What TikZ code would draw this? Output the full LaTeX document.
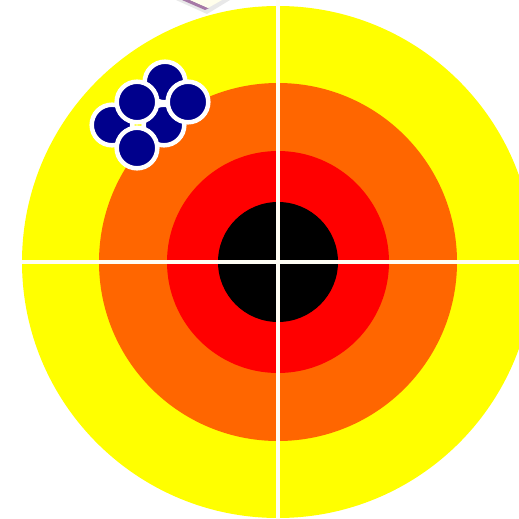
\documentclass[tikz,border=0pt]{standalone}
\begin{document}
\begin{tikzpicture}[x=1pt,y=-1pt,
  crossline/.style={draw=white!96!yellow, line width=3.6pt},
  shot/.style={fill=dotblue, draw=white, line width=4.5pt}]
\definecolor{tgtyellow}{HTML}{FFFF00}
\definecolor{tgtorange}{HTML}{FF6600}
\definecolor{tgtred}{HTML}{FF0000}
\definecolor{dotblue}{HTML}{00008C}
\useasboundingbox (0,0) rectangle (519,519);
\clip (0,0) rectangle (519,519);
\fill[white] (0,0) rectangle (519,519);
% corner of an object at the top
\fill[gray!18] (176,0) -- (207,14) -- (230,0) -- cycle;
\fill[gray!50!violet!70] (182,0) -- (205,10) -- (209,8) -- (190,0) -- cycle;
\fill[yellow!8!white] (190,0) -- (208,8) -- (222,0) -- cycle;
\coordinate (c) at (278,262);
\fill[tgtyellow] (c) circle (256pt);
\fill[tgtorange] (c) circle (179pt);
\fill[tgtred] (c) circle (111pt);
\fill[black] (c) circle (60pt);
\draw[crossline] (278,0) -- (278,519);
\draw[crossline] (22,262) -- (534,262);
% back shots
\draw[shot] (165,82) circle (20.3pt);
\draw[shot] (112,125) circle (20.3pt);
\draw[shot] (164,125) circle (20.3pt);
% front shots
\draw[shot] (137,102) circle (20.3pt);
\draw[shot] (188,102) circle (20.3pt);
\draw[shot] (137,148) circle (20.3pt);
\end{tikzpicture}
\end{document}
